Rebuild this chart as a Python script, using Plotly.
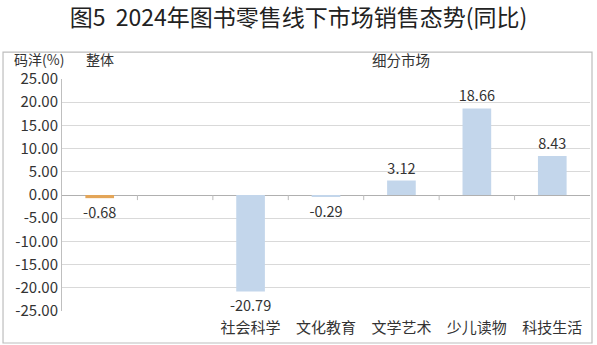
import plotly.graph_objects as go

categories = ["整体", " ", "社会科学", "文化教育", "文学艺术", "少儿读物", "科技生活"]
values = [-0.68, None, -20.79, -0.29, 3.12, 18.66, 8.43]
bottom_labels = ["", "", "社会科学", "文化教育", "文学艺术", "少儿读物", "科技生活"]
y_ticks = [25, 20, 15, 10, 5, 0, -5, -10, -15, -20, -25]

FONT = "Noto Sans CJK SC"
colors = ["#E3A558"] + ["#C3D6EB"] * 6
texts = [("%.2f" % v) if v is not None else "" for v in values]

fig = go.Figure()
fig.add_trace(go.Bar(
    x=list(range(len(categories))), y=values,
    marker=dict(color=colors, line=dict(width=0)),
    text=texts, textposition="outside", cliponaxis=False,
    constraintext="none",
    textfont=dict(family=FONT, size=14.5, color="#333333"),
    width=0.38,
))

shapes = []
for i in range(len(categories) - 1):
    shapes.append(dict(type="line", xref="x", yref="y", x0=i + 0.5, x1=i + 0.5,
                       y0=0, y1=-1.1, line=dict(color="#BBBBBB", width=1)))
shapes.append(dict(type="rect", xref="paper", yref="paper",
                   x0=-0.1117, x1=1.0038, y0=-0.138, y1=1.116,
                   line=dict(color="#BDBDBD", width=1.2), layer="below"))

fig.update_layout(
    width=597, height=345,
    margin=dict(l=62, r=7, t=79, b=34),
    paper_bgcolor="white", plot_bgcolor="white",
    showlegend=False,
    font=dict(family=FONT, color="#333333"),
    title=dict(text="图5  2024年图书零售线下市场销售态势(同比)",
               x=0.5, xanchor="center", xref="container",
               y=1 - 18 / 345, yanchor="middle", yref="container",
               font=dict(family=FONT, size=23, color="#222222")),
    xaxis=dict(range=[-0.5, 6.5], tickvals=list(range(len(categories))),
               ticktext=bottom_labels, showgrid=False, zeroline=False,
               showline=False, ticks="", ticklabelstandoff=6,
               tickfont=dict(family=FONT, size=15, color="#333333")),
    yaxis=dict(range=[-25, 25], tickvals=y_ticks,
               ticktext=["%.2f" % v for v in y_ticks],
               showgrid=True, gridcolor="#D9D9D9", gridwidth=1,
               zeroline=True, zerolinecolor="#B0B0B0", zerolinewidth=1.2,
               showline=True, linecolor="#BFBFBF", linewidth=1,
               ticks="", ticklen=0,
               tickfont=dict(family=FONT, size=15, color="#333333")),
    shapes=shapes,
    annotations=[
        dict(text="码洋(%)", xref="paper", yref="paper", x=-0.095, y=1.085,
             xanchor="left", yanchor="middle", showarrow=False,
             font=dict(family=FONT, size=14, color="#333333")),
        dict(text="整体", xref="x", yref="paper", x=0, y=1.085,
             xanchor="center", yanchor="middle", showarrow=False,
             font=dict(family=FONT, size=14, color="#333333")),
        dict(text="细分市场", xref="x", yref="paper", x=4, y=1.085,
             xanchor="center", yanchor="middle", showarrow=False,
             font=dict(family=FONT, size=14.5, color="#333333")),
    ],
)

fig.write_html("out.html")
